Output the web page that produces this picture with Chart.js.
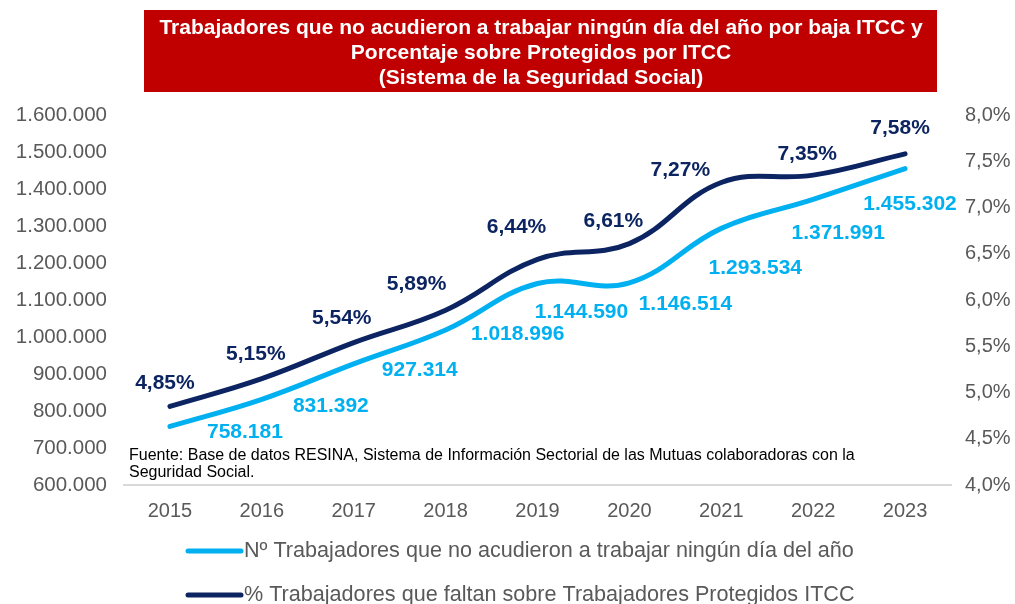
<!DOCTYPE html>
<html>
<head>
<meta charset="utf-8">
<script src="https://cdn.jsdelivr.net/npm/chart.js@4/dist/chart.umd.min.js"></script>
<style>
  html, body { margin: 0; padding: 0; background: #fff; }
  #wrap { width: 1015px; height: 604px; position: relative; }
</style>
</head>
<body>
<div id="wrap"><canvas id="itccChart" width="1015" height="604"></canvas></div>
<script>
// chart data
const years = ['2015', '2016', '2017', '2018', '2019', '2020', '2021', '2022', '2023'];
const trabajadores = [758181, 831392, 927314, 1018996, 1144590, 1146514, 1293534, 1371991, 1455302];
const porcentaje = [4.85, 5.15, 5.54, 5.89, 6.44, 6.61, 7.27, 7.35, 7.58];
const leftTicks = [600000, 700000, 800000, 900000, 1000000, 1100000, 1200000, 1300000, 1400000, 1500000, 1600000];
const rightTicks = [4.0, 4.5, 5.0, 5.5, 6.0, 6.5, 7.0, 7.5, 8.0];

const titleLines = [
    'Trabajadores que no acudieron a trabajar ningún día del año por baja ITCC y',
    'Porcentaje sobre Protegidos por ITCC',
    '(Sistema de la Seguridad Social)'
];
const sourceLines = [
    'Fuente: Base de datos RESINA, Sistema de Información Sectorial de las Mutuas colaboradoras con la',
    'Seguridad Social.'
];
const legendLabels = [
    'Nº Trabajadores que no acudieron a trabajar ningún día del año',
    '% Trabajadores que faltan sobre Trabajadores Protegidos ITCC'
];

const LIGHT = '#00B0F0';
const DARK = '#0C2461';
const GREY = '#595959';
const FONT = '"Liberation Sans", Arial, sans-serif';

// label offsets (px) from each point, tuned by eye
const numOffsets = [[75, 6], [69, 7], [66, 6], [72, 4], [44, 29], [56, 21], [34, 40], [25, 34], [5, 36]];
const pctOffsets = [[-5, -23], [-6, -24], [-12, -24], [-29, -26], [-21, -32], [-16, -22], [-41, -12], [-6, -21], [-5, -26]];

function fmtInt(v) {
    return Math.round(v).toString().replace(/\B(?=(\d{3})+(?!\d))/g, '.');
}
function fmtPct(v, d) {
    return v.toFixed(d).replace('.', ',') + '%';
}

const decor = {
    id: 'decor',
    afterDraw(chart) {
        const c = chart.ctx;
        c.save();
        // title box
        c.fillStyle = '#C00000';
        c.fillRect(144, 10, 793, 82);
        c.fillStyle = '#fff';
        c.textAlign = 'center';
        c.textBaseline = 'middle';
        c.font = 'bold 21px ' + FONT;
        const ty = [28, 53, 78];
        titleLines.forEach((t, i) => c.fillText(t, 541, ty[i], 774));

        // data labels
        const m0 = chart.getDatasetMeta(0), m1 = chart.getDatasetMeta(1);
        c.font = 'bold 21px ' + FONT;
        m0.data.forEach((p, i) => {
            c.fillStyle = LIGHT;
            c.fillText(fmtInt(trabajadores[i]), p.x + numOffsets[i][0], p.y + numOffsets[i][1]);
        });
        m1.data.forEach((p, i) => {
            c.fillStyle = DARK;
            c.fillText(fmtPct(porcentaje[i], 2), p.x + pctOffsets[i][0], p.y + pctOffsets[i][1]);
        });

        // source note
        c.fillStyle = '#000';
        c.textAlign = 'left';
        c.font = '16px ' + FONT;
        c.fillText(sourceLines[0], 129, 456, 726);
        c.fillText(sourceLines[1], 129, 473);

        // legend
        const rows = [551, 595];
        const cols = [LIGHT, DARK];
        c.font = '21.6px ' + FONT;
        rows.forEach((y, i) => {
            c.strokeStyle = cols[i];
            c.lineWidth = 5;
            c.lineCap = 'round';
            c.beginPath();
            c.moveTo(188, y);
            c.lineTo(241, y);
            c.stroke();
            c.fillStyle = GREY;
            c.fillText(legendLabels[i], 244, y);
        });
        c.restore();
    }
};

const ctx = document.getElementById('itccChart').getContext('2d');
new Chart(ctx, {
    type: 'line',
    data: {
        labels: years,
        datasets: [{
            label: legendLabels[0],
            data: trabajadores,
            yAxisID: 'y',
            borderColor: LIGHT,
            borderWidth: 5,
            borderCapStyle: 'round',
            pointRadius: 0,
            tension: 0.4,
            fill: false
        }, {
            label: legendLabels[1],
            data: porcentaje,
            yAxisID: 'y1',
            borderColor: DARK,
            borderWidth: 5,
            borderCapStyle: 'round',
            pointRadius: 0,
            tension: 0.4,
            fill: false
        }]
    },
    options: {
        responsive: false,
        animation: false,
        layout: { padding: { top: 115, left: 0, right: 0, bottom: 0 } },
        plugins: {
            legend: { display: false },
            tooltip: { enabled: false }
        },
        scales: {
            x: {
                offset: true,
                grid: { display: false },
                border: { display: true, color: '#D9D9D9', width: 2 },
                ticks: { color: GREY, padding: 6, font: { size: 20, family: FONT } },
                afterFit(s) { s.height = 119; }
            },
            y: {
                position: 'left',
                min: 600000,
                max: 1600000,
                grid: { display: false },
                border: { display: false },
                afterBuildTicks(s) { s.ticks = leftTicks.map(v => ({ value: v })); },
                ticks: {
                    color: GREY,
                    padding: 9,
                    font: { size: 20.5, family: FONT },
                    callback: v => fmtInt(v)
                },
                afterFit(s) { s.width = 124; }
            },
            y1: {
                position: 'right',
                min: 4,
                max: 8,
                grid: { display: false },
                border: { display: false },
                afterBuildTicks(s) { s.ticks = rightTicks.map(v => ({ value: v })); },
                ticks: {
                    color: GREY,
                    padding: 6,
                    font: { size: 20, family: FONT },
                    callback: v => fmtPct(v, 1)
                },
                afterFit(s) { s.width = 64; }
            }
        }
    },
    plugins: [decor]
});
</script>
</body>
</html>
